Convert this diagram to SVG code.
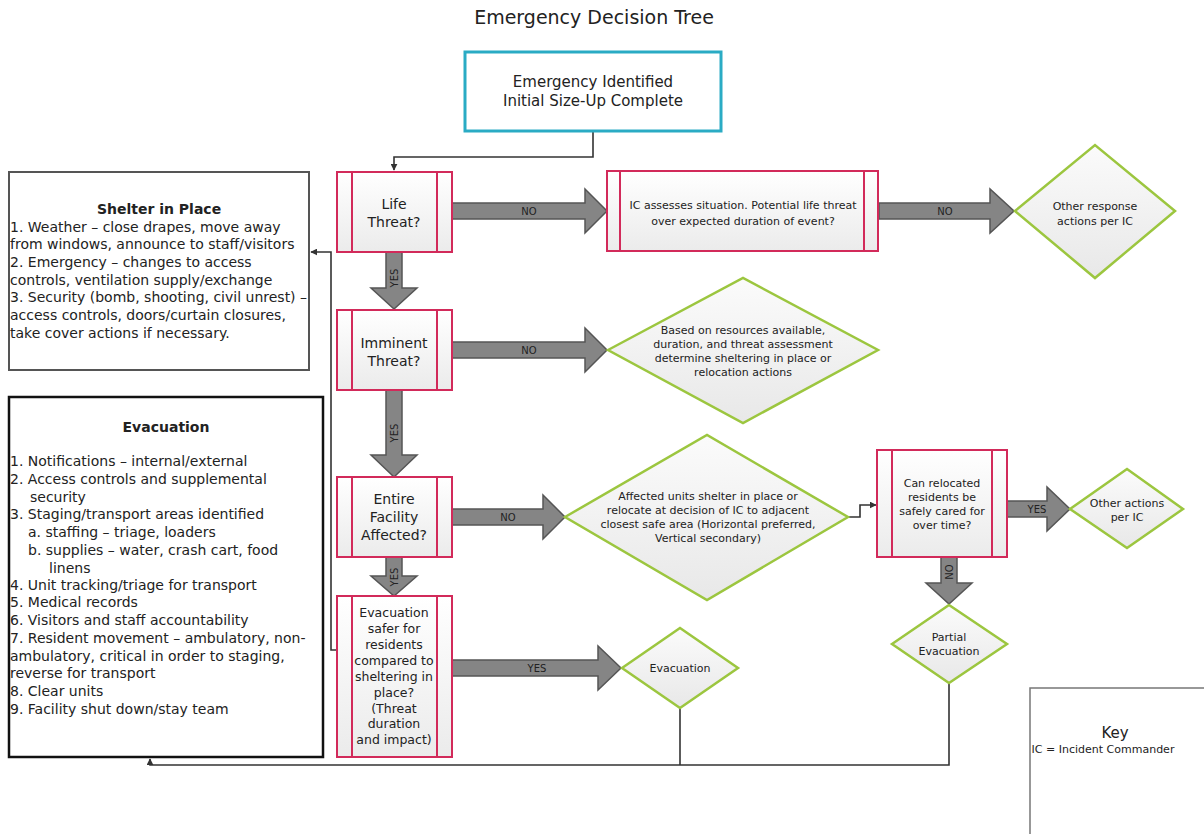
<svg xmlns="http://www.w3.org/2000/svg" width="1204" height="834" viewBox="0 0 1204 834">
<defs>
<linearGradient id="gp" x1="0" y1="0" x2="0" y2="1"><stop offset="0" stop-color="#ffffff"/><stop offset="1" stop-color="#ebebeb"/></linearGradient>
<linearGradient id="gd" x1="0" y1="0" x2="0" y2="1"><stop offset="0" stop-color="#fbfbfb"/><stop offset="1" stop-color="#e8e8e8"/></linearGradient>
<marker id="ah" viewBox="0 0 10 10" refX="9" refY="5" markerWidth="7" markerHeight="7" orient="auto" markerUnits="userSpaceOnUse"><path d="M0,0 L10,5 L0,10 z" fill="#333"/></marker>
<style>
text{font-family:"DejaVu Sans",Verdana,sans-serif;fill:#222}
.pk{fill:url(#gp);stroke:#d22a5a;stroke-width:2}
.pl{stroke:#d22a5a;stroke-width:2}
.dm{fill:url(#gd);stroke:#9cc63f;stroke-width:2.5}
.ar{fill:#858585;stroke:#555;stroke-width:1.5}
.ln{fill:none;stroke:#333;stroke-width:1.6}
.n14{font-size:14px;text-anchor:middle}
.n12{font-size:12.5px;text-anchor:middle}
.s11{font-size:11px;text-anchor:middle}
.lb{font-size:10px;text-anchor:middle;fill:#222}
.bx{font-size:14px}
</style>
</defs>
<rect width="1204" height="834" fill="#ffffff"/>
<text x="594" y="24" style="font-size:19px;text-anchor:middle">Emergency Decision Tree</text>

<g id="connectors">
<polyline class="ln" points="593,131 593,157 394,157 394,170" marker-end="url(#ah)"/>
<polyline class="ln" points="337,650 331,650 331,252 311,252" marker-end="url(#ah)"/>
<polyline class="ln" points="848,517 860,517 860,505 876,505" marker-end="url(#ah)"/>
<polyline class="ln" points="680,708 680,765"/>
<polyline class="ln" points="949,683 949,765 150,765 150,759" marker-end="url(#ah)"/>
<polygon class="ar" points="452,203 585,203 585,189 607,211 585,233 585,219 452,219"/>
<text class="lb" x="529" y="215">NO</text>
<polygon class="ar" points="879,203 990,203 990,189 1014,211 990,233 990,219 879,219"/>
<text class="lb" x="945" y="215">NO</text>
<polygon class="ar" points="452,342 585,342 585,328 607,350 585,372 585,358 452,358"/>
<text class="lb" x="529" y="354">NO</text>
<polygon class="ar" points="452,509 543,509 543,495 565,517 543,539 543,525 452,525"/>
<text class="lb" x="508" y="521">NO</text>
<polygon class="ar" points="452,660 598,660 598,646 621,668 598,690 598,676 452,676"/>
<text class="lb" x="537" y="672">YES</text>
<polygon class="ar" points="1007,501 1047,501 1047,487 1070,509 1047,531 1047,517 1007,517"/>
<text class="lb" x="1037" y="513">YES</text>
<polygon class="ar" points="386,252 402,252 402,288 417,288 394,309 371,288 386,288"/>
<text class="lb" transform="translate(398,278) rotate(-90)">YES</text>
<polygon class="ar" points="386,390 402,390 402,455 417,455 394,477 371,455 386,455"/>
<text class="lb" transform="translate(398,433) rotate(-90)">YES</text>
<polygon class="ar" points="386,557 402,557 402,576 417,576 394,596 371,576 386,576"/>
<text class="lb" transform="translate(398,577) rotate(-90)">YES</text>
<polygon class="ar" points="941,557 957,557 957,583 972,583 949,604 926,583 941,583"/>
<text class="lb" transform="translate(953,572) rotate(-90)">NO</text>
</g>

<g id="n-start">
<rect x="465" y="52" width="256" height="79" fill="#ffffff" stroke="#2aabc4" stroke-width="3"/>
<text class="n14" x="593" y="87" style="font-size:15px">Emergency Identified</text>
<text class="n14" x="593" y="106" style="font-size:15px">Initial Size-Up Complete</text>
</g>

<g id="n-life">
<rect class="pk" x="337" y="172" width="115" height="80"/>
<line class="pl" x1="352" y1="172" x2="352" y2="252"/><line class="pl" x1="437" y1="172" x2="437" y2="252"/>
<text class="n14" x="394" y="209">Life</text>
<text class="n14" x="394" y="227">Threat?</text>
</g>

<g id="n-ic">
<rect class="pk" x="607" y="171" width="271" height="80"/>
<line class="pl" x1="620" y1="171" x2="620" y2="251"/><line class="pl" x1="864" y1="171" x2="864" y2="251"/>
<text class="s11" x="743" y="209">IC assesses situation. Potential life threat</text>
<text class="s11" x="743" y="225">over expected duration of event?</text>
</g>

<g id="n-other-response">
<polygon class="dm" points="1015,211 1095,145 1175,211 1095,278"/>
<text class="s11" x="1095" y="210">Other response</text>
<text class="s11" x="1095" y="225">actions per IC</text>
</g>

<g id="n-imminent">
<rect class="pk" x="337" y="310" width="115" height="80"/>
<line class="pl" x1="352" y1="310" x2="352" y2="390"/><line class="pl" x1="437" y1="310" x2="437" y2="390"/>
<text class="n14" x="394" y="348">Imminent</text>
<text class="n14" x="394" y="366">Threat?</text>
</g>

<g id="n-based">
<polygon class="dm" points="608,350 743,278 878,350 743,423"/>
<text class="s11" x="743" y="334">Based on resources available,</text>
<text class="s11" x="743" y="348">duration, and threat assessment</text>
<text class="s11" x="743" y="362">determine sheltering in place or</text>
<text class="s11" x="743" y="376">relocation actions</text>
</g>

<g id="n-entire">
<rect class="pk" x="337" y="477" width="115" height="80"/>
<line class="pl" x1="352" y1="477" x2="352" y2="557"/><line class="pl" x1="437" y1="477" x2="437" y2="557"/>
<text class="n14" x="394" y="504">Entire</text>
<text class="n14" x="394" y="522">Facility</text>
<text class="n14" x="394" y="540">Affected?</text>
</g>

<g id="n-affected">
<polygon class="dm" points="565,517 707,435 848,517 707,600"/>
<text class="s11" x="708" y="500">Affected units shelter in place or</text>
<text class="s11" x="708" y="514">relocate at decision of IC to adjacent</text>
<text class="s11" x="708" y="528">closest safe area (Horizontal preferred,</text>
<text class="s11" x="708" y="542">Vertical secondary)</text>
</g>

<g id="n-can">
<rect class="pk" x="877" y="450" width="130" height="107"/>
<line class="pl" x1="892" y1="450" x2="892" y2="557"/><line class="pl" x1="992" y1="450" x2="992" y2="557"/>
<text class="s11" x="942" y="487">Can relocated</text>
<text class="s11" x="942" y="501">residents be</text>
<text class="s11" x="942" y="515">safely cared for</text>
<text class="s11" x="942" y="529">over time?</text>
</g>

<g id="n-other-actions">
<polygon class="dm" points="1070,509 1127,469 1183,509 1127,548"/>
<text class="s11" x="1127" y="507">Other actions</text>
<text class="s11" x="1127" y="521">per IC</text>
</g>

<g id="n-partial">
<polygon class="dm" points="892,644 949,605 1007,644 949,683"/>
<text class="s11" x="949" y="641">Partial</text>
<text class="s11" x="949" y="655">Evacuation</text>
</g>

<g id="n-evacsafer">
<rect class="pk" x="337" y="596" width="115" height="161"/>
<line class="pl" x1="352" y1="596" x2="352" y2="757"/><line class="pl" x1="437" y1="596" x2="437" y2="757"/>
<text class="n12" x="394" y="617">Evacuation</text>
<text class="n12" x="394" y="633">safer for</text>
<text class="n12" x="394" y="649">residents</text>
<text class="n12" x="394" y="665">compared to</text>
<text class="n12" x="394" y="681">sheltering in</text>
<text class="n12" x="394" y="697">place?</text>
<text class="n12" x="394" y="713">(Threat</text>
<text class="n12" x="394" y="728">duration</text>
<text class="n12" x="394" y="744">and impact)</text>
</g>

<g id="n-evacuation">
<polygon class="dm" points="622,668 680,628 738,668 680,708"/>
<text class="s11" x="680" y="672">Evacuation</text>
</g>

<g id="n-shelter">
<rect x="9" y="172" width="300" height="198" fill="#ffffff" stroke="#555" stroke-width="2"/>
<text x="159" y="214" style="font-size:14px;font-weight:bold;text-anchor:middle">Shelter in Place</text>
<text class="bx" x="10" y="232">1. Weather – close drapes, move away</text>
<text class="bx" x="10" y="249">from windows, announce to staff/visitors</text>
<text class="bx" x="10" y="267">2. Emergency – changes to access</text>
<text class="bx" x="10" y="285">controls, ventilation supply/exchange</text>
<text class="bx" x="10" y="302">3. Security (bomb, shooting, civil unrest) –</text>
<text class="bx" x="10" y="320">access controls, doors/curtain closures,</text>
<text class="bx" x="10" y="338">take cover actions if necessary.</text>
</g>

<g id="n-evac-list">
<rect x="9" y="397" width="314" height="360" fill="#ffffff" stroke="#111" stroke-width="2.5"/>
<text x="166" y="432" style="font-size:14px;font-weight:bold;text-anchor:middle">Evacuation</text>
<text class="bx" x="10" y="466">1. Notifications – internal/external</text>
<text class="bx" x="10" y="484">2. Access controls and supplemental</text>
<text class="bx" x="30" y="502">security</text>
<text class="bx" x="10" y="519">3. Staging/transport areas identified</text>
<text class="bx" x="28" y="537">a. staffing – triage, loaders</text>
<text class="bx" x="28" y="555">b. supplies – water, crash cart, food</text>
<text class="bx" x="49" y="573">linens</text>
<text class="bx" x="10" y="590">4. Unit tracking/triage for transport</text>
<text class="bx" x="10" y="607">5. Medical records</text>
<text class="bx" x="10" y="625">6. Visitors and staff accountability</text>
<text class="bx" x="10" y="643">7. Resident movement – ambulatory, non-</text>
<text class="bx" x="10" y="661">ambulatory, critical in order to staging,</text>
<text class="bx" x="10" y="678">reverse for transport</text>
<text class="bx" x="10" y="696">8. Clear units</text>
<text class="bx" x="10" y="714">9. Facility shut down/stay team</text>
</g>

<g id="n-key">
<rect x="1030" y="688" width="190" height="160" fill="#ffffff" stroke="#777" stroke-width="1.5"/>
<text x="1115" y="738" style="font-size:15px;text-anchor:middle">Key</text>
<text x="1103" y="753" style="font-size:11px;text-anchor:middle">IC = Incident Commander</text>
</g>
</svg>
